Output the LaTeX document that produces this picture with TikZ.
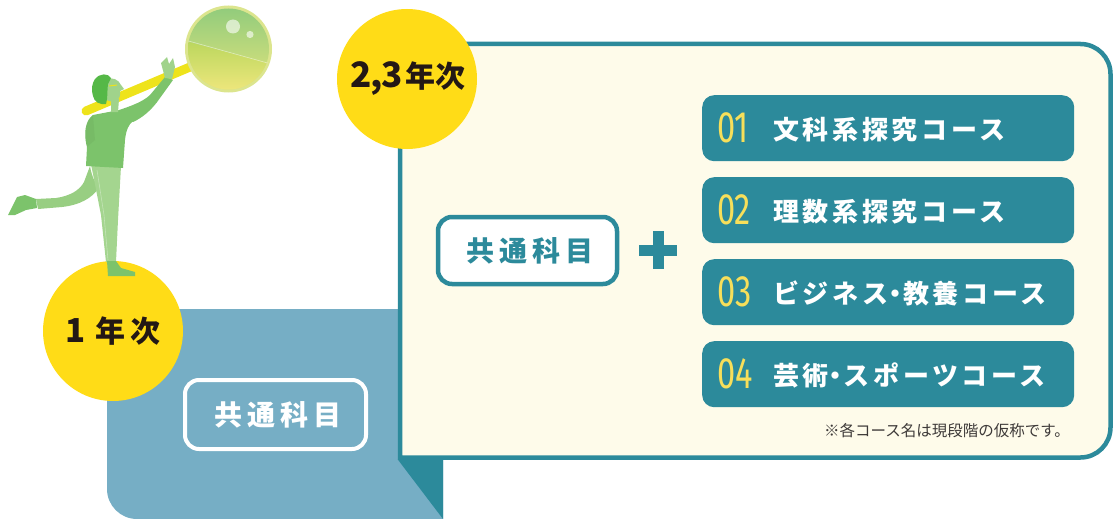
\documentclass[tikz,border=0pt]{standalone}
\usepackage{fontspec}
\setmainfont{Noto Sans CJK JP}
\newfontfamily\numfont{Fira Sans}[FakeStretch=0.74]
\definecolor{teal}{HTML}{2C8A9B}
\definecolor{yearblue}{HTML}{76AEC5}
\definecolor{cream}{HTML}{FEFBEA}
\definecolor{badge}{HTML}{FFDC17}
\definecolor{numyellow}{HTML}{F7DF5A}
\definecolor{ink}{HTML}{231815}
\definecolor{notegray}{HTML}{3E3A39}
\definecolor{stick}{HTML}{EEE31B}
\definecolor{shirt}{HTML}{7CC36B}
\definecolor{pants}{HTML}{A4D58F}
\definecolor{backleg}{HTML}{98CE82}
\definecolor{hair}{HTML}{55B847}
\definecolor{skin}{HTML}{A0D38B}
\definecolor{ballrim}{HTML}{DCE58E}
\definecolor{balltop}{HTML}{93CC7C}
\definecolor{ballmid}{HTML}{E2E47C}
\definecolor{balllow}{HTML}{AFD357}
\definecolor{ballbottom}{HTML}{EFE77D}
% narrow middle dot inside spaced course names
\newcommand{\middot}{\kern-6pt・\kern-5pt}
\begin{document}
\begin{tikzpicture}[x=1pt,y=-1pt,
  coursebox/.style={fill=teal, rounded corners=12pt, minimum width=372pt, minimum height=66pt, inner sep=0pt},
  coursenum/.style={text=numyellow, inner sep=0pt, font=\numfont\fontsize{44}{44}\selectfont},
  coursetxt/.style={text=white, inner sep=0pt, font=\bfseries\fontsize{26}{26}\selectfont\addfontfeature{LetterSpace=14}},
  yearbadge/.style={circle, fill=badge, minimum size=140pt, inner sep=0pt},
  yeartxt/.style={text=ink, inner sep=0pt, font=\bfseries\fontsize{30}{30}\selectfont},
  subjtxt/.style={inner sep=0pt, font=\bfseries\fontsize{28}{28}\selectfont\addfontfeature{LetterSpace=18}},
  plusbar/.style={fill=teal}
]
\useasboundingbox (0,0) rectangle (1114,519);

% first-year block with its folded edge
\fill[yearblue] (443,309) -- (443,519) -- (137,519)
  arc[start angle=90, end angle=180, radius=30] -- (107,309) -- cycle;

% second/third-year panel
\filldraw[fill=cream, draw=teal, line width=4.5pt]
  (400,457.5) -- (400,44) -- (1080.5,44)
  arc[start angle=270, end angle=360, radius=30] -- (1110.5,427.5)
  arc[start angle=0, end angle=90, radius=30] -- cycle;
\fill[teal] (397.8,459.5) -- (443,459.5) -- (443,519) -- cycle;

% common subjects, first year
\node[draw=white, line width=4pt, rounded corners=14pt, minimum width=181pt, minimum height=69pt]
  (common1) at (275.5,414.5) {};
\node[subjtxt, text=white] (common1txt) at ([xshift=2.5pt]common1.center) {共通科目};

% common subjects, later years
\node[draw=teal, fill=white, line width=4.5pt, rounded corners=14pt, minimum width=179pt, minimum height=67pt]
  (common2) at (527.5,250.5) {};
\node[subjtxt, text=teal] (common2txt) at ([xshift=2.5pt]common2.center) {共通科目};

% plus sign
\node[plusbar, minimum width=38pt, minimum height=11pt, inner sep=0pt] (plush) at (658,250) {};
\node[plusbar, minimum width=11pt, minimum height=38pt, inner sep=0pt] (plusv) at (658,250) {};

% course list
\node[coursebox, anchor=north west] (c1) at (702,95) {};
\node[coursebox, anchor=north west] (c2) at (702,177) {};
\node[coursebox, anchor=north west] (c3) at (702,259) {};
\node[coursebox, anchor=north west] (c4) at (702,341) {};
\foreach \i/\lbl in {1/文科系探究コース, 2/理数系探究コース, 3/ビジネス\middot 教養コース, 4/芸術\middot スポーツコース}{
  \node[coursenum, anchor=west] (n\i) at ([xshift=15pt,yshift=0pt]c\i.west) {0\i};
  \node[coursetxt, anchor=west] (t\i) at ([xshift=71pt,yshift=-1pt]c\i.west) {\lbl};
}
\node[text=notegray, inner sep=0pt, anchor=west, font=\fontsize{15.5}{15.5}\selectfont]
  (note) at (824,431) {※各コース名は現段階の仮称です。};

% year badges
\node[yearbadge] (y1) at (113,331) {};
\node[yeartxt] (y1txt) at ([xshift=0pt]y1.center) {{\fontsize{33}{33}\selectfont 1}\hspace{10pt}年\hspace{5pt}次};
\node[yearbadge] (y23) at (407,79) {};
\node[yeartxt] (y23txt) at ([xshift=1pt]y23.center) {{\fontsize{35}{35}\selectfont 2\kern-1pt,\kern-1pt3}\hspace{3pt}年次};

% the reaching figure
\draw[stick, line width=9pt, line cap=round] (86,111) -- (190,67);
% back leg and foot
\fill[backleg] (90,166) .. controls (92,178) and (96,184) .. (99,188)
  .. controls (92,198) and (80,205) .. (62,207) -- (38,209) -- (36,199)
  -- (56,198) .. controls (70,196) and (80,190) .. (84,182) -- cycle;
\fill[shirt] (8,215) -- (17,197) -- (25,195) -- (36,199) -- (37,208) -- (26,210) -- (15,215) -- cycle;
% standing leg and foot
\fill[pants] (91,164) -- (121,166) -- (118,220) -- (116,262) -- (106,262) -- (101,215) -- cycle;
\draw[white, opacity=0.35, line width=0.6pt] (97,170) -- (104,215) -- (108,260);
% torso
\fill[shirt] (93,115) .. controls (86,120) and (83,132) .. (87,147) -- (86,166) -- (123,168)
  -- (125,140) .. controls (126,130) and (129,124) .. (133,121) -- (114,111) -- cycle;
\fill[shirt!85!black, opacity=0.25] (93,115) .. controls (86,120) and (83,132) .. (87,147) -- (95,140) -- cycle;
% raised arm and hand
\fill[shirt] (110,113) .. controls (125,108) and (142,103) .. (150,95) -- (165,77) -- (173,80)
  -- (160,98) .. controls (152,110) and (142,118) .. (133,122) -- cycle;
\fill[skin] (161,63) -- (167,57) -- (169,64) -- (173,58) -- (175,67) -- (172,79) -- (165,78) -- cycle;
% neck and head
\fill[skin] (111,99) -- (119,99) -- (118,112) -- (111,112) -- cycle;
\fill[skin] (106,80) .. controls (112,76) and (119,80) .. (121,85) -- (124,89) -- (120,91)
  .. controls (121,96) and (119,101) .. (113,102) -- (106,100) -- cycle;
\fill[hair] (95,79) .. controls (100,73) and (108,73) .. (111,78) -- (108,84)
  .. controls (107,90) and (108,98) .. (106,104) .. controls (100,105) and (94,102) .. (93,96)
  .. controls (91,90) and (92,83) .. (95,79) -- cycle;
\draw[stick, line width=1pt] (109,86) -- (117,85);
% standing foot over the badge
\fill[shirt] (107,261) -- (116,261) -- (121,268) -- (135,272) -- (135,276) -- (108,276) -- cycle;

% the glass ball
\fill[ballrim] (228.5,49) circle (43.5);
\shade[top color=balltop, bottom color=ballmid] (228.5,49) circle (40.5);
\begin{scope}
  \clip (228.5,49) circle (40.5);
  \clip (185,41) -- (272,64) -- (272,95) -- (185,95) -- cycle;
  \shade[top color=balllow, bottom color=ballbottom] (185,30) rectangle (272,92);
\end{scope}
\draw[white, opacity=0.5, line width=0.6pt] (188.5,41) -- (267.5,63);
\fill[white, opacity=0.6] (233,26.5) circle (7);
\fill[white, opacity=0.6] (250,34.5) circle (3.6);
\end{tikzpicture}
\end{document}
